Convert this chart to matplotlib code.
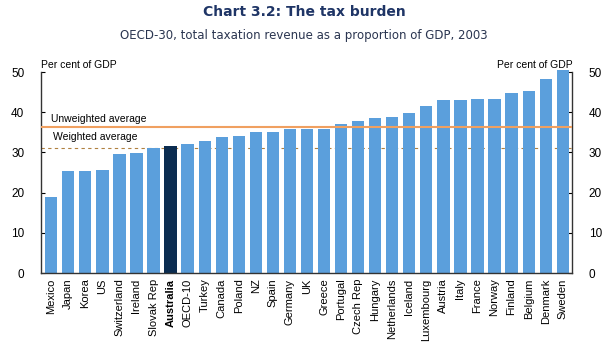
import matplotlib.pyplot as plt
import numpy as np

plt.rcParams['font.family'] = ['Liberation Sans', 'DejaVu Sans']

countries = ['Mexico', 'Japan', 'Korea', 'US', 'Switzerland', 'Ireland', 'Slovak Rep',
             'Australia', 'OECD-10', 'Turkey', 'Canada', 'Poland', 'NZ', 'Spain',
             'Germany', 'UK', 'Greece', 'Portugal', 'Czech Rep', 'Hungary',
             'Netherlands', 'Iceland', 'Luxembourg', 'Austria', 'Italy', 'France',
             'Norway', 'Finland', 'Belgium', 'Denmark', 'Sweden']
revenue = [19.0, 25.4, 25.4, 25.6, 29.6, 29.9, 31.1, 31.6, 32.1, 32.8, 33.8, 34.1,
           35.0, 35.0, 35.8, 35.7, 35.7, 37.1, 37.7, 38.5, 38.8, 39.8, 41.6, 43.1,
           43.1, 43.4, 43.4, 44.8, 45.4, 48.3, 50.6]
unweighted_avg = 36.3
weighted_avg = 31.0

fig = plt.figure(figsize=(6.08, 3.53), dpi=100)
ax = fig.add_axes([0.0674, 0.2266, 0.8736, 0.5694])

x = np.arange(len(countries))
colors = ['#0b2c50' if c == 'Australia' else '#5b9fdc' for c in countries]
ax.bar(x, revenue, width=0.72, color=colors, zorder=2, clip_on=False)

ax.axhline(unweighted_avg, color='#f0a060', lw=1.5, zorder=3)
ax.axhline(weighted_avg, color='#b08040', lw=0.8, ls=(0, (3, 3)), zorder=1)
ax.text(0.0, unweighted_avg + 0.7, 'Unweighted average', fontsize=7.5, va='bottom', ha='left')
ax.text(0.1, weighted_avg + 1.5, 'Weighted average', fontsize=7.5, va='bottom', ha='left')

ax.set_xlim(-0.6, len(countries) - 0.45)
ax.set_ylim(0, 50)
ax.set_yticks([0, 10, 20, 30, 40, 50])
ax.tick_params(axis='y', labelsize=8.5, length=3, direction='in', pad=12,
               left=True, right=True, labelleft=True, labelright=True)
ax.set_xticks(x)
ax.set_xticklabels(countries, rotation=90, fontsize=8)
for lbl in ax.get_xticklabels():
    if lbl.get_text() == 'Australia':
        lbl.set_fontweight('bold')
ax.tick_params(axis='x', length=0, pad=4)

ax.spines['top'].set_visible(False)
for s in ['left', 'right', 'bottom']:
    ax.spines[s].set_color('#333333')
    ax.spines[s].set_linewidth(1.0)

ax.text(0.0, 1.01, 'Per cent of GDP', transform=ax.transAxes, fontsize=7.5,
        ha='left', va='bottom')
ax.text(1.0, 1.01, 'Per cent of GDP', transform=ax.transAxes, fontsize=7.5,
        ha='right', va='bottom')

fig.text(0.5, 0.955, 'Chart 3.2: The tax burden', ha='center', fontsize=10,
         fontweight='bold', color='#1f3566', family='DejaVu Sans')
fig.text(0.5, 0.89, 'OECD-30, total taxation revenue as a proportion of GDP, 2003',
         ha='center', fontsize=8.5, color='#2a3550', family='DejaVu Sans')

fig.savefig('out.png', dpi=100)
